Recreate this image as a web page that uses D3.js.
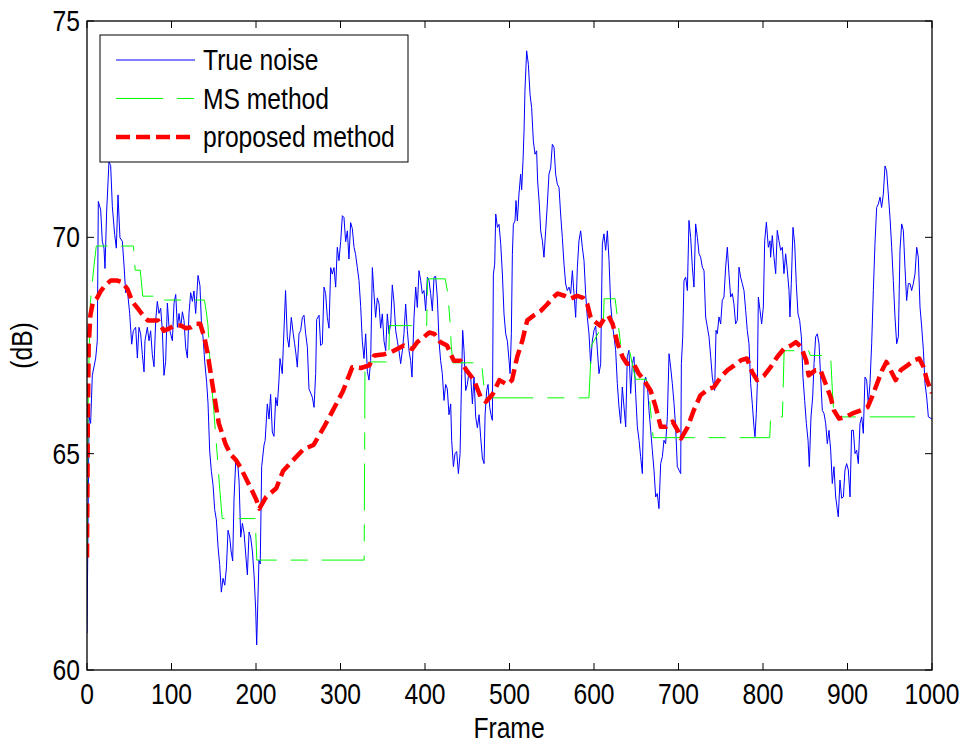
<!DOCTYPE html>
<html>
<head>
<meta charset="utf-8">
<script src="https://cdn.jsdelivr.net/npm/d3@7"></script>
<style>
  body { margin: 0; background: #fff; }
  svg { display: block; }
  .lbl { font-family: "Liberation Sans", Arial, sans-serif; fill: #000; }
</style>
</head>
<body>
<div id="chart"></div>
<script>
// [frame, dB] pairs
var trueNoise = [
  [0,60.85],[2.4,65.86],[4.3,65.7],[6.3,66.81],[10.3,67.21],[12.2,67.61],[13.4,70.83],[16.2,70.63],
  [18.1,69.91],[20.1,69.75],[21.3,69.28],[23.3,70.63],[26,71.74],[28,71.66],[30,70.71],[32.7,70.07],
  [34.7,69.75],[36.7,70.98],[39,69.99],[41.8,69.91],[43.8,69.36],[45.8,68.72],[47.7,68.8],[50.5,68.24],
  [52.9,67.53],[54.8,67.84],[57.6,67.92],[59.6,67.21],[61.5,67.92],[63.5,67.77],[65.5,67.29],[67.5,66.89],
  [68.6,67.61],[71.4,67.92],[73.4,67.61],[75.3,67.84],[77.3,67.29],[79.3,67.01],[81.3,68.08],[83.2,68.52],
  [85.2,68.24],[87.2,68.36],[89.2,67.84],[91.1,66.81],[93.1,67.13],[95.1,68.48],[97.1,67.92],[99,67.77],
  [101,67.61],[103,68.48],[105,68.68],[107,67.92],[108.9,68.24],[110.9,67.92],[112.9,68.28],[114.8,68.08],
  [116.8,67.45],[118.8,67.21],[120.7,68.24],[122.7,68.72],[124.7,68.52],[126.6,68.76],[128.6,68.24],[131.4,69.12],
  [133.7,68.88],[135.3,68.08],[137.7,67.61],[139.3,67.13],[141.6,66.65],[143.2,66.17],[145.2,65.06],[147.2,64.59],
  [149.2,64.27],[151.1,63.71],[153.1,63.47],[155.1,62.84],[157,62.44],[159,61.8],[161,62.12],[163,61.96],
  [165,62.36],[166.9,63.23],[168.9,63.07],[170.5,62.75],[172.4,62.52],[174,63.95],[176,64.82],[178,64.86],
  [180,64.35],[181.9,63.07],[183.9,63.39],[185.9,63.16],[187.8,62.68],[189.8,62.2],[191.8,63.19],[193.7,63.07],
  [195.7,62.75],[197.7,62.2],[199.6,61.41],[200.8,60.58],[203.5,62.54],[205,62.45],[206.7,64.7],[209.5,65.2],
  [210.8,65.3],[213.4,66.15],[215.4,65.8],[217.3,66.37],[219.3,65.5],[221.3,65.4],[223.3,66.3],[225.2,66.1],
  [227.2,66.7],[228.4,67.2],[231.1,66.85],[232.3,67.46],[235,68.77],[237,67.7],[239,67.46],[241.8,68.15],
  [244.1,67.77],[245.7,67.54],[247.3,67.3],[248.9,67],[250.9,67.77],[252.9,67.85],[254.9,68.15],[256.8,68.2],
  [258.8,67.77],[260.8,67.46],[262.7,66.5],[264.7,66.4],[266.7,66.3],[268.7,66.07],[270.6,66.85],[271.8,68.1],
  [274.6,68.2],[276.5,67.5],[278.5,67.54],[280.5,68.85],[282.4,68.7],[284.4,68.15],[286.4,67.9],[288.4,69.3],
  [290.3,69.15],[292.3,69.3],[294.3,68.85],[296.2,69.77],[298.2,69.46],[300.2,69.9],[302.2,70.5],[304.1,70.46],
  [306.1,69.9],[308.1,70.15],[310,69.5],[312,70.34],[314,70.2],[316,69.77],[317.9,69.6],[319.9,69.3],
  [321.9,69],[323.9,68.4],[325.8,67.6],[327.8,67.2],[329.8,67.77],[331.8,66.9],[333.7,66.7],[335.7,67.15],
  [337.7,69.3],[339.6,68.7],[341.6,68.15],[343.6,68.6],[345.6,68.46],[347.5,67.9],[349.5,68.23],[351.5,67.6],
  [353.5,67.38],[355.4,68.23],[357.4,67.77],[359.4,68],[361.3,68.9],[363.3,68.5],[365.3,67.85],[367.3,67.6],
  [369.2,67.38],[371.2,67.08],[373.2,67.38],[375.1,67.77],[377.1,68.46],[379.1,67.85],[381.1,67.38],[383,67.15],
  [384.6,66.77],[387,68.15],[389,68.85],[390.9,68.38],[392.9,69.23],[394.9,69],[396.8,68.7],[398.8,68.77],
  [400.8,68.3],[402.8,69.08],[404.7,69],[406.7,68.7],[408.7,68.3],[410.7,69.08],[412.6,69.1],[414.6,68.6],
  [416.6,67.6],[418.5,67.15],[420.5,66.85],[422.5,66.23],[424.5,66.6],[426.4,66.5],[428.4,65.9],[430.4,66.15],
  [431.6,65.3],[433.6,64.7],[435.5,65],[437.5,65.05],[439.5,64.54],[441.5,65],[443.4,66.85],[444.6,67.85],
  [446.2,67.38],[448.2,66.46],[450.1,66.6],[452.1,66.9],[454.1,66.77],[456.1,66.15],[458,66.77],[460,65.85],
  [462,65.6],[464,65.9],[465.9,65.38],[467.9,64.9],[469.9,64.77],[471.1,65.9],[473,66.46],[474.6,66.6],
  [476.6,66.07],[478.1,65.9],[479.7,65.77],[480.9,69.15],[482.5,69.38],[483.7,70.54],[485.7,70.23],[487.6,70.3],
  [489.6,69.85],[491.6,69.15],[493.5,68.23],[495.5,67.77],[497.5,67.6],[499.5,67.15],[500.7,66.85],[502.2,67.77],
  [503.4,69.6],[504.6,70.3],[506.5,70.38],[507.7,70.85],[509.3,70.38],[511.2,71],[513.2,71.46],[514.4,71.1],
  [516,71.77],[517.2,72.46],[518.3,73.4],[520.3,74.31],[522.3,74],[524.3,73.3],[526.2,73],[528.2,72.23],
  [530.2,71.92],[532.1,72],[533.3,71.3],[535.3,70.77],[536.9,70.15],[538.9,69.92],[540.8,69.54],[542.8,70.15],
  [544.8,70.77],[546.7,71.46],[548.7,71.6],[550.7,72.15],[552.7,72.08],[554.6,71.46],[556.6,71.23],[558.6,71.15],
  [560.5,70.54],[562.5,70],[564.5,69.38],[566.5,68.92],[568.4,68.77],[570.4,68.85],[572.4,68.7],[574.4,69.23],
  [576.3,68.7],[578.3,68.15],[580.3,69.3],[582.2,69.92],[584.2,70.15],[586.2,69.77],[588.2,69.46],[590.1,68.7],
  [592.1,68.15],[594.1,67.77],[596,67.08],[598,67.6],[600,67.85],[602,67.95],[604,67.39],[605.9,66.85],
  [607.9,67.08],[609.9,69.85],[611.8,70.08],[613.8,69.7],[615.8,70.15],[617.8,69.46],[619.7,68.46],[621.7,68],
  [623.7,67.7],[625.6,67.4],[627.6,66.62],[629.6,66.08],[631.6,65.7],[633.5,66.54],[635.5,66.08],[637.5,65.62],
  [639.4,67.24],[641.4,67.39],[643.4,66.39],[645.4,67.08],[647.3,67.24],[649.3,66.39],[651.3,65.62],[653.3,65.31],
  [655.2,64.93],[657.2,64.54],[659.2,66.62],[661.1,66.77],[663.1,66.62],[665.1,66],[667.1,65.54],[669,65.08],
  [671,64.62],[673,64],[674.9,64.08],[676.9,63.73],[678.9,64.77],[680.9,64.93],[682.8,65.31],[684.8,65.23],
  [686.8,65.85],[688.8,67.31],[690.7,67],[692.7,66.62],[694.7,66.16],[696.6,65.62],[698.6,64.7],[700.6,64.62],
  [702.6,64.54],[703.4,67.08],[705,67.7],[706.5,69],[708.5,69.08],[710.5,68.77],[712.4,70.39],[714.4,70],
  [716.4,69.31],[718.3,68.85],[720.3,70.31],[722.3,70],[724.3,69.62],[726.2,69.54],[728.2,69.31],[730.2,69.23],
  [732.1,68.16],[734.1,67.93],[736.1,67.7],[738.1,67.24],[740,66.77],[741.2,66.62],[742.8,66.46],[744.4,67.85],
  [745.9,67.77],[747.9,68.16],[749.9,68],[751.8,68.54],[753.8,68.62],[755.8,69.31],[757.8,69.77],[759.7,69.16],
  [761.7,68.62],[763.7,68.7],[765.6,68.46],[767.6,68],[769.6,68.08],[771.6,69.31],[773.5,69.08],[775.5,68.93],
  [777.5,68.77],[779.5,68.31],[781.4,67.85],[783.4,67.54],[785.4,66.62],[787.3,66.16],[789.3,65.62],[790.5,65.39],
  [792.1,65.93],[793.3,66.62],[794.5,68.62],[796.5,68.31],[798.4,68],[800.4,68.39],[802,69.92],[804,70.35],
  [806.3,69.77],[808.3,69.92],[809,69.54],[811,70.04],[813,69.54],[815,69.16],[816.9,70.16],[818.9,69.92],
  [820.9,69.7],[822.9,69.77],[824.8,69.16],[826.8,69.62],[828.8,69.23],[830.8,68.77],[831.9,68.16],[833.5,68.93],
  [835.5,70.23],[837.5,69.85],[839.4,68.93],[841.4,68.23],[843.4,68.08],[845.4,67.7],[847.3,66.77],[849.3,66.23],
  [851.3,65.7],[853.3,65.31],[854.8,64.7],[856.8,65.85],[858.8,66.31],[860.4,67.08],[862.3,67.7],[864.3,67.77],
  [866.3,67.54],[868.2,66.77],[870.2,66],[872.2,65.93],[874.2,65.7],[876.1,65.23],[878.1,65.54],[880.1,65.08],
  [882,64.31],[884,64.7],[886,64],[888,63.7],[889.1,63.54],[891.1,64.39],[893.1,63.97],[895.1,64],
  [897,64.62],[899,64.77],[901,64.62],[903,64],[904.9,65.54],[906.9,65.54],[908.9,65],[910.8,65.08],
  [912.8,64.77],[914.8,65.7],[916.8,65.85],[918.7,65.47],[920.7,66.77],[922.7,66.7],[924.6,66.16],[926.6,66.62],
  [928.6,67.54],[930.6,68.77],[932.5,69.85],[934.5,70.69],[936.5,70.77],[938.5,70.93],[940.4,70.69],[942.4,71],
  [944.4,71.65],[946.3,71.54],[948.3,71],[950.3,70.46],[952.3,69.77],[954.2,69],[956.2,68.16],[958.2,67.54],
  [960.2,67.7],[962.1,69.7],[964.1,70.31],[966.1,70.16],[968,69.31],[970,68.54],[972,68.93],[974,68.93],
  [975.9,68.77],[977.9,68.93],[979.9,69.16],[981.9,69.77],[983.8,69.54],[985.8,68.39],[987.8,67.93],[989.8,67.39],
  [991.7,66.62],[993.7,66.31],[995.7,65.85],[1000,65.8]
];

var msMethod = [
  [0,62.6],[1.5,66.5],[4,68.5],[8,69.3],[11,69.8],[55,69.8],[57,69.24],[63,69.24],[66,68.64],[90,68.64],
  [91,68.55],[139,68.55],[141,68.3],[143,68.0],[146,67.0],[150,66.0],[154,65.0],[157,64.2],[160,63.5],
  [199,63.5],[201,62.54],[328,62.54],[329,67.12],[357,67.12],[358,67.96],[402,67.96],[403,69.04],[424,69.04],
  [427,68.7],[430,67.96],[431,67.5],[433,67.1],[467,67.1],[469,66.7],[471,66.29],[594,66.29],[597,67.5],
  [611,68.0],[612,68.58],[625,68.58],[628,68.1],[632,67.45],[642,67.4],[646,67.0],[649,66.72],[662,66.72],
  [666,66.2],[670,65.37],[808,65.37],[809,65.85],[823,65.85],[825,67.38],[854,67.38],[856,67.27],[880,67.27],
  [882,66.5],[884,65.85],[980,65.85]
];

var proposed = [
  [0,62.6],[1,65.8],[2,67.5],[4,68.2],[7,68.5],[12,68.6],[16,68.75],[22,68.9],[28,69.0],[36,69.0],[42,68.96],
  [48,68.8],[54,68.5],[60,68.36],[66,68.2],[72,68.08],[78,68.08],[84,68.08],[91,67.84],[97,67.89],[103,67.96],
  [111,67.96],[117,67.9],[123,67.92],[129,68.0],[134,68.0],[139,67.68],[143,67.29],[148,66.65],[152,66.17],
  [156,65.7],[160,65.46],[164,65.22],[170,64.98],[176,64.86],[182,64.67],[188,64.43],[194,64.2],[200,63.95],
  [204,63.73],[212,64.0],[224,64.2],[232,64.6],[244,64.85],[256,65.1],[268,65.2],[280,65.6],[291,66.0],
  [303,66.45],[314,67.0],[324,66.98],[334,67.04],[340,67.27],[352,67.3],[360,67.35],[367,67.42],[375,67.5],
  [385,67.42],[391,67.58],[399,67.7],[405,67.8],[411,67.77],[418,67.58],[426,67.5],[434,67.15],[442,67.15],
  [450,66.9],[458,66.7],[466,66.3],[472,66.2],[480,66.37],[488,66.7],[497,66.6],[503,66.7],[509,67.23],
  [515,67.6],[521,68.08],[529,68.2],[537,68.3],[545,68.46],[551,68.6],[557,68.7],[565,68.65],[572,68.58],
  [580,68.65],[587,68.6],[592,68.46],[596,68.15],[602,68.04],[607,67.96],[612,68.12],[617,68.19],[622,68.0],
  [628,67.54],[634,67.23],[639,67.08],[647,67.08],[653,66.85],[659,66.7],[667,66.46],[673,66.08],[679,65.62],
  [685,65.62],[693,65.74],[699,65.54],[703,65.35],[711,65.62],[718,66.0],[726,66.35],[736,66.5],[742,66.54],
  [750,66.77],[758,66.93],[766,67.04],[774,67.16],[781,67.2],[787,66.89],[793,66.7],[801,66.8],[809,67.0],
  [817,67.24],[825,67.43],[833,67.5],[839,67.58],[845,67.47],[851,67.16],[854,66.81],[862,66.93],[868,66.93],
  [874,66.62],[880,66.31],[884,66.0],[890,65.81],[898,65.85],[906,65.93],[916,66.0],[924,66.08],[929,66.31],
  [935,66.62],[941,66.93],[946,67.12],[951,66.93],[957,66.7],[963,66.93],[971,67.04],[979,67.16],[985,67.2],
  [990,67.0],[994,66.7],[1000,66.4]
];

var xTicks = [0, 100, 200, 300, 400, 500, 600, 700, 800, 900, 1000];
var yTicks = [60, 65, 70, 75];
var legendNames = ["True noise", "MS method", "proposed method"];

(function() {
  var W = 963, H = 744;
  var mLeft = 87, mRight = 932, mTop = 21, mBottom = 670;
  var fs = 29, sx = 0.85;   // narrow, tall text like the original export

  var x = d3.scaleLinear().domain([0, 1000]).range([mLeft, mRight]);
  var y = d3.scaleLinear().domain([60, 75]).range([mBottom, mTop]);

  var svg = d3.select("#chart").append("svg").attr("width", W).attr("height", H);

  svg.append("clipPath").attr("id", "plotclip")
    .append("rect").attr("x", mLeft).attr("y", mTop)
    .attr("width", mRight - mLeft).attr("height", mBottom - mTop);

  var line = d3.line().x(function(d) { return x(d[0]); }).y(function(d) { return y(d[1]); });

  var plot = svg.append("g").attr("clip-path", "url(#plotclip)");

  var styles = [
    { data: trueNoise, color: "#0000ff", width: 1, dash: null },
    { data: msMethod, color: "#00ff00", width: 1, dash: "47,14,17,14" },
    { data: proposed, color: "#ff0000", width: 4.5, dash: "14,6" }
  ];

  styles.forEach(function(s) {
    plot.append("path")
      .datum(s.data)
      .attr("d", line)
      .attr("fill", "none")
      .attr("stroke", s.color)
      .attr("stroke-width", s.width)
      .attr("stroke-dasharray", s.dash)
      .attr("stroke-linejoin", "round");
  });

  // helper: squeezed text
  function label(g, tx, ty, str, anchor) {
    return g.append("text").attr("class", "lbl")
      .attr("transform", "translate(" + tx + "," + ty + ") scale(" + sx + ",1)")
      .attr("text-anchor", anchor || "start")
      .attr("font-size", fs)
      .text(str);
  }

  // ticks inside on all four sides, matlab style
  var tk = 7;
  xTicks.forEach(function(t) {
    svg.append("line").attr("x1", x(t)).attr("x2", x(t)).attr("y1", mBottom).attr("y2", mBottom - tk).attr("stroke", "#000");
    svg.append("line").attr("x1", x(t)).attr("x2", x(t)).attr("y1", mTop).attr("y2", mTop + tk).attr("stroke", "#000");
    label(svg, x(t), 704, d3.format("d")(t), "middle");
  });
  yTicks.forEach(function(t) {
    svg.append("line").attr("x1", mLeft).attr("x2", mLeft + tk).attr("y1", y(t)).attr("y2", y(t)).attr("stroke", "#000");
    svg.append("line").attr("x1", mRight).attr("x2", mRight - tk).attr("y1", y(t)).attr("y2", y(t)).attr("stroke", "#000");
    label(svg, 80, y(t) + 10, d3.format("d")(t), "end");
  });

  svg.append("rect")
    .attr("x", mLeft).attr("y", mTop).attr("width", mRight - mLeft).attr("height", mBottom - mTop)
    .attr("fill", "none").attr("stroke", "#000").attr("stroke-width", 1.3);

  label(svg, 509, 738, "Frame", "middle");

  svg.append("text").attr("class", "lbl")
    .attr("transform", "translate(32," + ((mTop + mBottom) / 2) + ") rotate(-90) scale(" + sx + ",1)")
    .attr("text-anchor", "middle").attr("font-size", fs)
    .text("(dB)");

  // legend
  var lg = svg.append("g");
  lg.append("rect").attr("x", 100).attr("y", 35).attr("width", 308).attr("height", 127)
    .attr("fill", "#fff").attr("stroke", "#000").attr("stroke-width", 1);
  legendNames.forEach(function(name, i) {
    var ly = 60 + i * 38.5;
    var s = styles[i];
    lg.append("line").attr("x1", 116).attr("x2", 195).attr("y1", ly).attr("y2", ly)
      .attr("stroke", s.color).attr("stroke-width", s.width).attr("stroke-dasharray", s.dash);
    label(lg, 203, ly + 10, name, "start");
  });
})();
</script>
</body>
</html>
